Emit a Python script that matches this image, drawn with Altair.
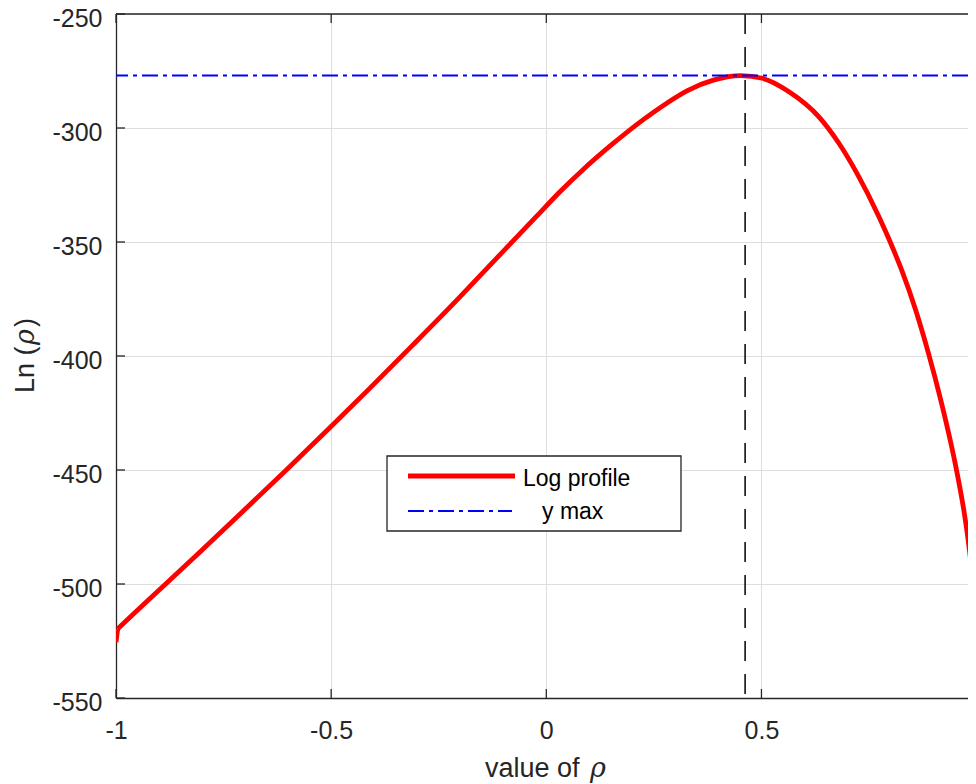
import altair as alt
import pandas as pd

# ---- data ----
rho = [-1.0, -0.996, -0.954, -0.884, -0.803, -0.706, -0.606, -0.505, -0.411,
       -0.314, -0.213, -0.113, -0.024, 0.030, 0.084, 0.154, 0.227, 0.280,
       0.328, 0.390, 0.452, 0.502, 0.564, 0.633, 0.680, 0.722, 0.773, 0.796,
       0.827, 0.858, 0.889, 0.916, 0.939, 0.9536, 0.9698, 0.9814, 0.9891,
       0.995]
log_profile = [-525.5, -519.6, -512.2, -499.9, -485.6, -468.3, -450.3,
               -431.8, -414.3, -395.9, -376.5, -356.6, -339.0, -328.3,
               -318.5, -307.0, -296.1, -289.1, -283.6, -278.9, -277.0,
               -278.2, -284.1, -295.0, -306.7, -319.9, -338.9, -348.6,
               -362.9, -379.6, -399.4, -418.8, -437.2, -450.3, -467.1,
               -482.2, -494.5, -505.7]
y_max = [-277.0]
rho_max = [0.462]
x_ticks = [-1.0, -0.5, 0.0, 0.5]
y_ticks = [-550, -500, -450, -400, -350, -300, -250]
legend_labels = ["Log profile", "y max"]
x_title_parts = ["value of", "ρ"]
y_title_parts = ["Ln (", "ρ", ")"]

W, H = 852, 684
FONT = "Liberation Sans"
ITAL = "DejaVu Serif"
AX = "#262626"

curve_df = pd.DataFrame({"rho": rho, "ll": log_profile})
jump_df = curve_df.iloc[:2]
smooth_df = curve_df.iloc[1:]
ymax_df = pd.DataFrame({"ll": y_max})
vline_df = pd.DataFrame({"rho": rho_max})
xt_df = pd.DataFrame({"rho": x_ticks})
yt_df = pd.DataFrame({"ll": y_ticks})
one = pd.DataFrame({"k": [0]})


def txt(s):
    return pd.DataFrame({"t": [s]})


xs = alt.Scale(domain=[-1, 0.98], nice=False, zero=False)
ys = alt.Scale(domain=[-550, -250], nice=False, zero=False)

x_axis = alt.Axis(values=x_ticks, labelExpr="'' + datum.value", grid=True,
                  gridColor="#dedede", gridWidth=1, domain=True,
                  domainColor=AX, domainWidth=1.3, ticks=False,
                  labelFont=FONT, labelFontSize=25, labelColor=AX,
                  labelPadding=20, title="", labelFlush=False)
y_axis = alt.Axis(values=y_ticks, labelExpr="'' + datum.value", grid=True,
                  gridColor="#dedede", gridWidth=1, domain=True,
                  domainColor=AX, domainWidth=1.3, ticks=False,
                  labelFont=FONT, labelFontSize=25, labelColor=AX,
                  labelPadding=14, labelOffset=4.5, title="",
                  labelFlush=False)

X = alt.X("rho:Q", scale=xs, axis=x_axis)
Y = alt.Y("ll:Q", scale=ys, axis=y_axis)

line_style = dict(color="#ff0000", strokeWidth=4.8, strokeJoin="round",
                  clip=True)
jump = alt.Chart(jump_df).mark_line(**line_style).encode(x=X, y=Y)
curve = alt.Chart(smooth_df).mark_line(interpolate="monotone",
                                       **line_style).encode(x=X, y=Y)
ymax_line = alt.Chart(ymax_df).mark_rule(color="#0000ff", strokeWidth=2,
                                         strokeDash=[16, 5, 4, 5]).encode(y=Y)
vline = alt.Chart(vline_df).mark_rule(color="#000000", strokeWidth=1.5,
                                      strokeDash=[20, 13]).encode(x=X)

tick_style = dict(color=AX, strokeWidth=1.3)
top_border = alt.Chart(one).mark_rule(**tick_style).encode(
    x=alt.value(0), x2=alt.value(W), y=alt.value(0))
xt_bottom = alt.Chart(xt_df).mark_rule(**tick_style).encode(
    x=X, y=alt.value(H), y2=alt.value(H - 9))
xt_top = alt.Chart(xt_df).mark_rule(**tick_style).encode(
    x=X, y=alt.value(0), y2=alt.value(9))
yt_left = alt.Chart(yt_df).mark_rule(**tick_style).encode(
    y=Y, x=alt.value(0), x2=alt.value(9))

# axis titles with an italic rho, as in the TeX-rendered original
title_style = dict(color=AX, baseline="alphabetic", align="left")
xt1 = alt.Chart(txt(x_title_parts[0])).mark_text(
    font=FONT, fontSize=27, **title_style).encode(
    text="t:N", x=alt.value(369), y=alt.value(763))
xt2 = alt.Chart(txt(x_title_parts[1])).mark_text(
    font=ITAL, fontSize=27, fontStyle="italic", **title_style).encode(
    text="t:N", x=alt.value(474), y=alt.value(763))
yt1 = alt.Chart(txt(y_title_parts[0])).mark_text(
    font=FONT, fontSize=27, angle=270, **title_style).encode(
    text="t:N", x=alt.value(-82), y=alt.value(379))
yt2 = alt.Chart(txt(y_title_parts[1])).mark_text(
    font=ITAL, fontSize=27, angle=270, fontStyle="italic", **title_style).encode(
    text="t:N", x=alt.value(-82), y=alt.value(331))
yt3 = alt.Chart(txt(y_title_parts[2])).mark_text(
    font=FONT, fontSize=27, angle=270, **title_style).encode(
    text="t:N", x=alt.value(-82), y=alt.value(313))

# legend (drawn by hand, MATLAB style)
leg_box = alt.Chart(one).mark_rect(fill="white", stroke=AX, strokeWidth=1.3).encode(
    x=alt.value(271), x2=alt.value(565), y=alt.value(442), y2=alt.value(517))
leg_red = alt.Chart(one).mark_rule(color="#ff0000", strokeWidth=4.8).encode(
    x=alt.value(292), x2=alt.value(399), y=alt.value(462))
leg_blue = alt.Chart(one).mark_rule(color="#0000ff", strokeWidth=2,
                                    strokeDash=[16, 5, 4, 5]).encode(
    x=alt.value(292), x2=alt.value(396), y=alt.value(497))
leg_t1 = alt.Chart(txt(legend_labels[0])).mark_text(
    font=FONT, fontSize=23, color="#000000", align="left",
    baseline="alphabetic").encode(text="t:N", x=alt.value(407), y=alt.value(472))
leg_t2 = alt.Chart(txt(legend_labels[1])).mark_text(
    font=FONT, fontSize=23, color="#000000", align="left",
    baseline="alphabetic").encode(text="t:N", x=alt.value(426), y=alt.value(505))

chart = alt.layer(
    jump, curve, ymax_line, vline, top_border, xt_bottom, xt_top, yt_left,
    xt1, xt2, yt1, yt2, yt3,
    leg_box, leg_red, leg_blue, leg_t1, leg_t2
).properties(
    width=W, height=H,
    autosize=alt.AutoSizeParams(type="none"),
    padding={"left": 108, "top": 6, "right": 0, "bottom": 88},
).configure_view(stroke=None).configure(background="white")

chart.save("out.html", embed_options={"renderer": "svg", "actions": False})
